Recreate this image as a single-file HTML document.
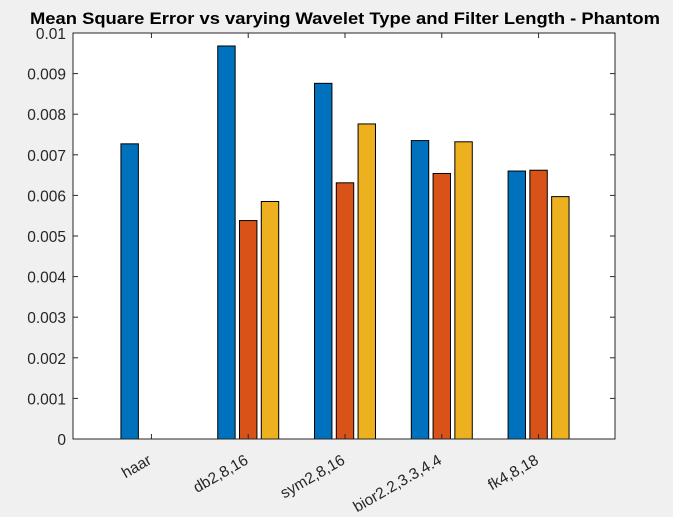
<!DOCTYPE html>
<html><head><meta charset="utf-8"><style>body{margin:0;background:#f0f0f0;}svg{display:block;font-family:"Liberation Sans",Arial,sans-serif;}</style></head>
<body>
<svg width="673" height="517">
<rect x="73" y="33" width="542" height="406" fill="#fff"/>
<text x="30" y="24" font-size="16.5" font-weight="bold" textLength="630" lengthAdjust="spacingAndGlyphs">Mean Square Error vs varying Wavelet Type and Filter Length - Phantom</text>
<g id="bars"></g><g id="axes"></g>
</svg>
<script>
const categories=["haar","db2,8,16","sym2,8,16","bior2.2,3.3,4.4","fk4,8,18"];
const series1=[0.00727,0.00968,0.00876,0.00735,0.00660];
const series2=[null,0.00538,0.00631,0.00654,0.00662];
const series3=[null,0.00585,0.00776,0.00732,0.00597];
const yTicks=[0,0.001,0.002,0.003,0.004,0.005,0.006,0.007,0.008,0.009,0.01];
const yTickLabels=["0","0.001","0.002","0.003","0.004","0.005","0.006","0.007","0.008","0.009","0.01"];
const L=73,R=615,T=33,B=439,xmin=0.2,xmax=5.8;
const X=v=>L+(v-xmin)/(xmax-xmin)*(R-L);
const Y=v=>B-v/0.01*(B-T);
const NS="http://www.w3.org/2000/svg";
const bars=document.getElementById('bars'),axes=document.getElementById('axes');
function mk(p,t,a){const e=document.createElementNS(NS,t);for(const k in a)e.setAttribute(k,a[k]);p.appendChild(e);return e;}
const S=[[series1,-0.225,"#0072bd"],[series2,0,"#d95319"],[series3,0.225,"#edb120"]];
const bw=0.18;
S.forEach(([arr,off,col],si)=>arr.forEach((v,i)=>{if(v==null)return;
const x0=X(i+1+off-bw/2)+1,x1=X(i+1+off+bw/2)+1;
const r=mk(bars,'rect',{x:x0,y:Y(v),width:x1-x0,height:B-Y(v),fill:col,stroke:'#000','stroke-width':1});

}));
const box=mk(axes,'rect',{x:L,y:T,width:R-L,height:B-T,fill:'none',stroke:'#262626','stroke-width':1});


yTicks.forEach((v,i)=>{const y=Y(v);
mk(axes,'line',{x1:L,x2:L+5,y1:y,y2:y,stroke:'#262626'});
mk(axes,'line',{x1:R,x2:R-5,y1:y,y2:y,stroke:'#262626'});
const t=mk(axes,'text',{x:L-7,y:y+6,'text-anchor':'end','font-size':15.5,fill:'#262626'});t.textContent=yTickLabels[i];

});
categories.forEach((c,i)=>{const x=X(i+1)+1;
mk(axes,'line',{x1:x,x2:x,y1:B,y2:B-5,stroke:'#262626'});
mk(axes,'line',{x1:x,x2:x,y1:T,y2:T+5,stroke:'#262626'});
const ax=x+1,ay=B+24;
const t=mk(axes,'text',{x:ax,y:ay,'text-anchor':'end','font-size':15.5,fill:'#262626',transform:`rotate(-30 ${ax} ${ay})`});t.textContent=c;

});
</script>
</body></html>
